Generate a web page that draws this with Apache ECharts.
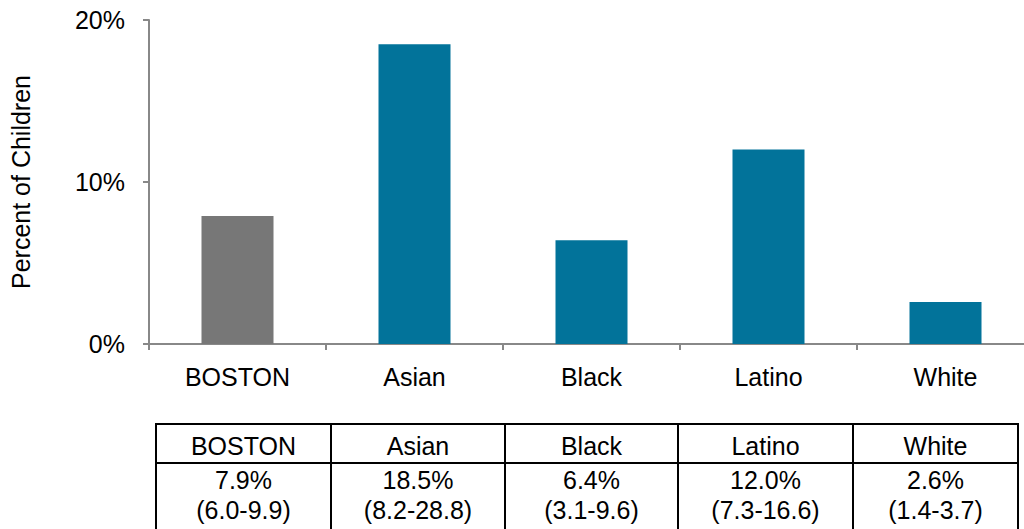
<!DOCTYPE html>
<html>
<head>
<meta charset="utf-8">
<script src="https://cdn.jsdelivr.net/npm/echarts@6/dist/echarts.min.js"></script>
<style>
html,body{margin:0;padding:0;background:#fff;}
#chart{width:1024px;height:529px;}
</style>
</head>
<body>
<div id="chart"></div>
<script>
const categories = ['BOSTON', 'Asian', 'Black', 'Latino', 'White'];
const values = [7.9, 18.5, 6.4, 12.0, 2.6];
const intervals = ['(6.0-9.9)', '(8.2-28.8)', '(3.1-9.6)', '(7.3-16.6)', '(1.4-3.7)'];
const barColors = ['#777777', '#02739A', '#02739A', '#02739A', '#02739A'];
const yTicks = { min: 0, max: 20, interval: 10 };
const yName = 'Percent of Children';

const FONT = '"Liberation Sans", Arial, sans-serif';
const FS = 25;

// table layout
const colX = [156, 331, 505, 678, 853, 1018];
const tTop = 424, tMid = 463, tBot = 545;
const rowY = [446, 480, 510];
const graphics = [];
graphics.push({ type: 'line', shape: { x1: colX[0] - 1, y1: tTop, x2: colX[5] + 1, y2: tTop }, style: { stroke: '#000', lineWidth: 2 } });
graphics.push({ type: 'line', shape: { x1: colX[0] - 1, y1: tMid, x2: colX[5] + 1, y2: tMid }, style: { stroke: '#000', lineWidth: 2 } });
colX.forEach(x => graphics.push({ type: 'line', shape: { x1: x, y1: tTop - 1, x2: x, y2: tBot }, style: { stroke: '#000', lineWidth: 2 } }));
categories.forEach((c, i) => {
  const cx = (colX[i] + colX[i + 1]) / 2;
  const txt = [c, values[i].toFixed(1) + '%', intervals[i]];
  txt.forEach((t, r) => graphics.push({ type: 'text', x: cx, y: rowY[r], style: { text: t, font: FS + 'px ' + FONT, fill: '#000', align: 'center', verticalAlign: 'middle' } }));
});

const chart = echarts.init(document.getElementById('chart'), null, { renderer: 'svg' });
chart.setOption({
  animation: false,
  backgroundColor: '#fff',
  grid: { left: 149, top: 20, height: 324, width: 885, containLabel: false, outerBoundsMode: 'none' },
  xAxis: {
    type: 'category',
    data: categories,
    axisLine: { lineStyle: { color: '#888', width: 2 } },
    axisTick: { show: true, length: 6, lineStyle: { color: '#888', width: 2 } },
    axisLabel: { color: '#000', fontSize: FS, fontFamily: FONT, margin: 20 }
  },
  yAxis: {
    type: 'value',
    min: yTicks.min, max: yTicks.max, interval: yTicks.interval,
    name: yName,
    nameLocation: 'middle',
    nameRotate: 90,
    nameGap: 116,
    nameTextStyle: { color: '#000', fontSize: 25, fontFamily: FONT },
    axisLine: { show: true, lineStyle: { color: '#888', width: 2 } },
    axisTick: { show: true, length: 6, lineStyle: { color: '#888', width: 2 } },
    splitLine: { show: false },
    axisLabel: { color: '#000', fontSize: FS, fontFamily: FONT, margin: 24, formatter: '{value}%' }
  },
  series: [{
    type: 'bar',
    data: values.map((v, i) => ({ value: v, itemStyle: { color: barColors[i] } })),
    barWidth: 72
  }],
  graphic: graphics
});
</script>
</body>
</html>
